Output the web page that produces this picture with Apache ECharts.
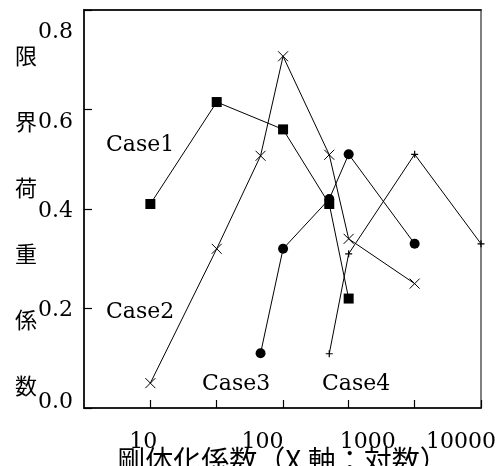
<!DOCTYPE html>
<html>
<head>
<meta charset="utf-8">
<script src="https://cdn.jsdelivr.net/npm/echarts@6/dist/echarts.min.js"></script>
<style>html,body{margin:0;padding:0;background:#fff}#c{width:503px;height:466px}</style>
</head>
<body>
<div id="c"></div>
<script>
const case1X = [10, 40, 160, 420, 630];
const case1Y = [0.41, 0.615, 0.56, 0.41, 0.22];
const case2X = [10, 40, 100, 160, 420, 630, 2500];
const case2Y = [0.05, 0.32, 0.507, 0.707, 0.509, 0.34, 0.25];
const case3X = [100, 160, 420, 630, 2500];
const case3Y = [0.11, 0.32, 0.42, 0.51, 0.33];
const case4X = [420, 630, 2500, 10000];
const case4Y = [0.109, 0.31, 0.51, 0.33];
const xTickValues = [10, 40, 160, 630, 2500, 10000];
const xLabelValues = [10, 100, 1000, 10000];
const seriesNames = ['Case1', 'Case2', 'Case3', 'Case4'];
const xName = '剛体化係数（X 軸：対数）';
const yName = '限界荷重係数';

const serif = '"DejaVu Serif", "Liberation Serif", serif';
const jp = '"Noto Sans CJK JP", sans-serif';
const pairs = (xs, ys) => xs.map((x, i) => [x, ys[i]]);
const crossPath = 'path://M0,0L10,10M10,0L0,10';
const plusPath = 'path://M0,5L10,5M5,0L5,10';
const hiddenSplit = {show: true, lineStyle: {color: 'rgba(0,0,0,0)', width: 0}};

const chart = echarts.init(document.getElementById('c'), null, {renderer: 'canvas'});
const lineBase = {
  type: 'line', xAxisIndex: 0, yAxisIndex: 0,
  lineStyle: {color: '#000', width: 1},
  showSymbol: true, animation: false, z: 3
};
const txt = (extra) => Object.assign({fontFamily: serif, fontSize: 22, color: '#000'}, extra);
chart.setOption({
  animation: false,
  grid: {left: 84, right: 22, top: 10, bottom: 58, outerBoundsMode: 'none',
    show: true, borderColor: '#808080', borderWidth: 2, backgroundColor: 'rgba(0,0,0,0)'},
  xAxis: [{
    type: 'log', logBase: 10, min: 2.5, max: 10000,
    axisLine: {show: true, onZero: false, lineStyle: {color: '#000', width: 1.5}},
    axisTick: {show: true, inside: true, length: 8, customValues: xTickValues, lineStyle: {color: '#000', width: 1.2}},
    splitLine: hiddenSplit,
    axisLabel: {
      show: true, customValues: xLabelValues, margin: 23, hideOverlap: false,
      color: '#000', fontFamily: serif, fontSize: 22,
      formatter: function (v) {
        const r = Math.round(v);
        if (r === 10) return '{a|10}';
        if (r === 10000) return '{d|10000}';
        if (r === 100) return '{b|100}';
        return '{c|1000}';
      },
      rich: {
        a: txt({padding: [0, 14, 0, 0]}),
        b: txt({padding: [0, 0, 0, 4]}),
        c: txt({padding: [0, 6, 0, 0]}),
        d: txt({padding: [0, 40, 0, 0]})
      }
    },
    name: xName, nameLocation: 'middle', nameGap: 38, nameMoveOverlap: false,
    nameTextStyle: {fontFamily: jp, fontSize: 28, color: '#000'}
  }, {
    type: 'value', position: 'top', min: 0, max: 1,
    axisLine: {show: true, onZero: false, lineStyle: {color: '#000', width: 1.5}},
    axisTick: {show: false}, axisLabel: {show: false}, splitLine: hiddenSplit
  }],
  yAxis: [{
    type: 'value', min: 0, max: 0.8, interval: 0.2,
    axisLine: {show: true, onZero: false, lineStyle: {color: '#000', width: 1.5}},
    axisTick: {show: true, inside: true, length: 8, lineStyle: {color: '#000', width: 1.2}},
    splitLine: hiddenSplit,
    axisLabel: {
      margin: 11, color: '#000', fontFamily: serif, fontSize: 22,
      formatter: function (v) {
        const k = Math.round(v * 10);
        return '{o' + k + '|' + v.toFixed(1) + '}';
      },
      rich: {
        o0: txt({padding: [0, 0, 12, 0]}),
        o2: txt({padding: [4, 0, 0, 0]}),
        o4: txt({padding: [4, 0, 0, 0]}),
        o6: txt({padding: [26, 0, 0, 0]}),
        o8: txt({padding: [44, 0, 0, 0]})
      }
    }
  }],
  graphic: [
    {type: 'text', x: 26, y: 23, style: {text: yName.split('').join('\n'), font: '22px "Noto Sans CJK JP"',
      lineHeight: 66, align: 'center', verticalAlign: 'top', fill: '#000'}},
    {type: 'text', left: 106, top: 134, style: {text: seriesNames[0], font: '22px "DejaVu Serif"', fill: '#000'}},
    {type: 'text', left: 106, top: 301, style: {text: seriesNames[1], font: '22px "DejaVu Serif"', fill: '#000'}},
    {type: 'text', left: 202, top: 373, style: {text: seriesNames[2], font: '22px "DejaVu Serif"', fill: '#000'}},
    {type: 'text', left: 322, top: 373, style: {text: seriesNames[3], font: '22px "DejaVu Serif"', fill: '#000'}}
  ],
  series: [
    Object.assign({}, lineBase, {name: seriesNames[0], data: pairs(case1X, case1Y),
      symbol: 'rect', symbolSize: 10, itemStyle: {color: '#000'}}),
    Object.assign({}, lineBase, {name: seriesNames[1], data: pairs(case2X, case2Y),
      symbol: crossPath, symbolSize: 10, itemStyle: {color: 'rgba(0,0,0,0)', borderColor: '#000', borderWidth: 1}}),
    Object.assign({}, lineBase, {name: seriesNames[2], data: pairs(case3X, case3Y),
      symbol: 'circle', symbolSize: 10, itemStyle: {color: '#000'}}),
    Object.assign({}, lineBase, {name: seriesNames[3], data: pairs(case4X, case4Y),
      symbol: plusPath, symbolSize: 7, itemStyle: {color: 'rgba(0,0,0,0)', borderColor: '#000', borderWidth: 1.2}})
  ]
});
</script>
</body>
</html>
